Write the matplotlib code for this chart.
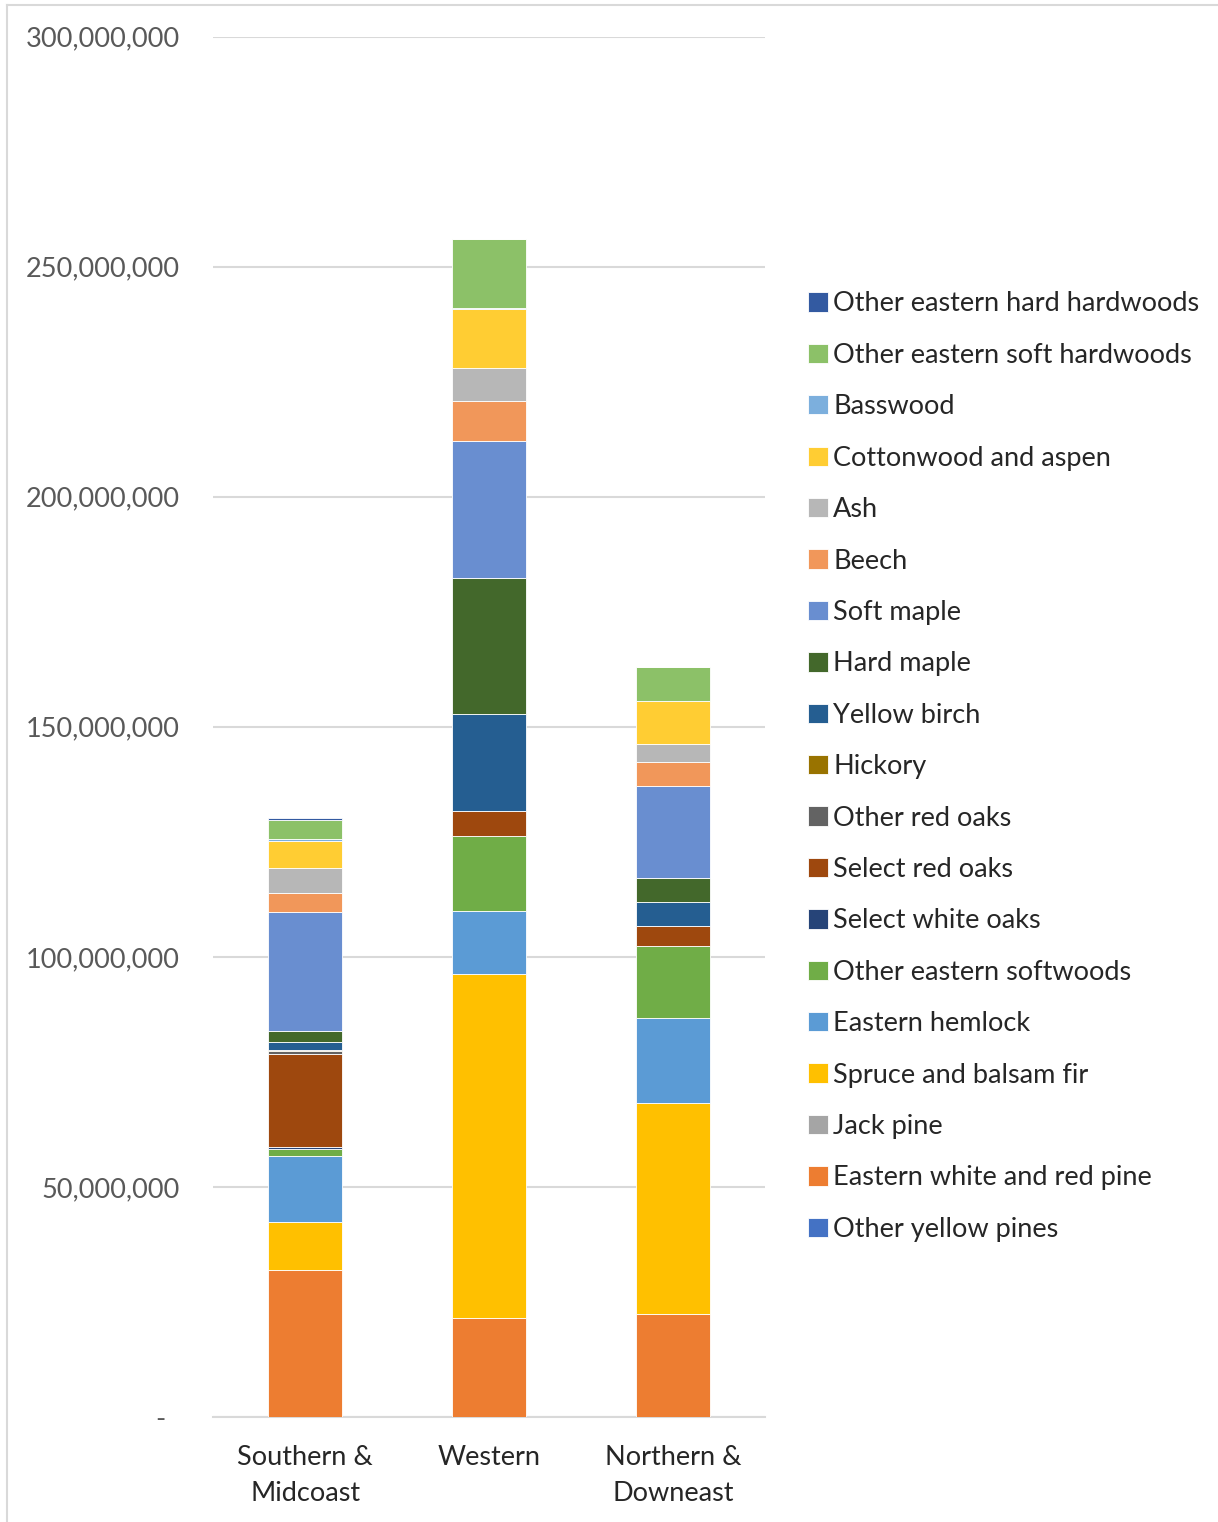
import matplotlib.pyplot as plt
import numpy as np
from matplotlib.ticker import FuncFormatter
from matplotlib.lines import Line2D

regions = ["Southern &\nMidcoast", "Western", "Northern &\nDowneast"]

# species in stacking order (bottom to top), values per region
species = [
    "Other yellow pines",
    "Eastern white and red pine",
    "Jack pine",
    "Spruce and balsam fir",
    "Eastern hemlock",
    "Other eastern softwoods",
    "Select white oaks",
    "Select red oaks",
    "Other red oaks",
    "Hickory",
    "Yellow birch",
    "Hard maple",
    "Soft maple",
    "Beech",
    "Ash",
    "Cottonwood and aspen",
    "Basswood",
    "Other eastern soft hardwoods",
    "Other eastern hard hardwoods",
]

other_yellow_pines = [0.0, 0.0, 0.0]
white_red_pine = [32.0, 21.5, 22.4]
jack_pine = [0.0, 0.0, 0.0]
spruce_fir = [10.4, 74.7, 45.8]
hemlock = [14.4, 13.7, 18.5]
other_softwoods = [1.4, 16.3, 15.6]
select_white_oaks = [0.5, 0.0, 0.0]
select_red_oaks = [20.2, 5.6, 4.3]
other_red_oaks = [0.7, 0.0, 0.0]
hickory = [0.2, 0.0, 0.0]
yellow_birch = [1.7, 20.9, 5.4]
hard_maple = [2.4, 29.6, 5.2]
soft_maple = [25.9, 29.7, 19.9]
beech = [4.0, 8.7, 5.2]
ash = [5.4, 7.2, 3.9]
cottonwood_aspen = [6.0, 12.8, 9.4]
basswood = [0.3, 0.3, 0.0]
other_soft_hardwoods = [4.2, 15.0, 7.3]
other_hard_hardwoods = [0.4, 0.0, 0.0]

values = [
    other_yellow_pines, white_red_pine, jack_pine, spruce_fir, hemlock,
    other_softwoods, select_white_oaks, select_red_oaks, other_red_oaks,
    hickory, yellow_birch, hard_maple, soft_maple, beech, ash,
    cottonwood_aspen, basswood, other_soft_hardwoods, other_hard_hardwoods,
]

colors = [
    "#4472C4", "#ED7D31", "#A5A5A5", "#FFC000", "#5B9BD5", "#70AD47",
    "#264478", "#9E480E", "#636363", "#997300", "#255E91", "#43682B",
    "#698ED0", "#F1975A", "#B7B7B7", "#FFCD33", "#7CAFDD", "#8CC168",
    "#335AA1",
]

plt.rcParams['font.family'] = ['Lato', 'DejaVu Sans']

fig = plt.figure(figsize=(12.18, 15.22), dpi=100)
ax = fig.add_axes([0.175, 0.069, 0.453, 0.907])

x = np.arange(len(regions))
bottom = np.zeros(len(regions))
handles = []
for name, vals, col in zip(species, values, colors):
    v = np.array(vals) * 1e6
    b = ax.bar(x, v, 0.4, bottom=bottom, color=col, label=name,
               edgecolor="white", linewidth=0.6, zorder=3)
    handles.append(b)
    bottom += v

ax.set_xlim(-0.5, 2.5)
ax.set_ylim(0, 300e6)
ax.set_yticks(np.arange(0, 300e6 + 1, 50e6))
# accounting-style labels: zero shown as a dash
ax.yaxis.set_major_formatter(FuncFormatter(lambda v, p: "-  " if v == 0 else f"{v:,.0f}"))
ax.set_xticks(x)
ax.set_xticklabels(regions, fontsize=19.5, color="#262626", linespacing=1.55)
ax.tick_params(axis="y", length=0, labelsize=19.5, labelcolor="#595959", pad=24)
ax.tick_params(axis="x", length=0, pad=20)
ax.grid(axis="y", color="#D9D9D9", linewidth=1.5, zorder=0)
for s in ["top", "right", "left"]:
    ax.spines[s].set_visible(False)
ax.spines["bottom"].set_color("#D9D9D9")
ax.spines["bottom"].set_linewidth(1.5)

leg = fig.legend(handles[::-1], species[::-1], loc="upper left",
                 bbox_to_anchor=(0.6435, 0.8245), frameon=False, fontsize=19.5,
                 handlelength=0.72, handleheight=0.72, handletextpad=0.2,
                 labelspacing=0.975, labelcolor="#262626")

# light frame lines along the left and top of the figure
fig.add_artist(Line2D([0.006, 0.006], [0, 0.997], transform=fig.transFigure,
                      color="#D9D9D9", linewidth=1.5))
fig.add_artist(Line2D([0.006, 1], [0.997, 0.997], transform=fig.transFigure,
                      color="#D9D9D9", linewidth=1.5))

fig.savefig("out.png", dpi=100)
